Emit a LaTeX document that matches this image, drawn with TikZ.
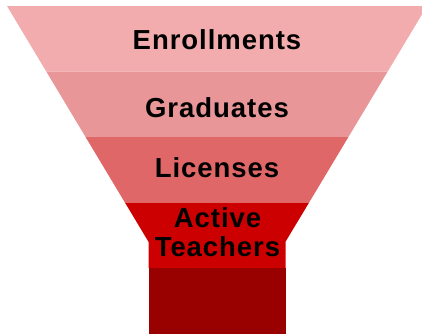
\documentclass[tikz,border=0pt]{standalone}
\usepackage{fontspec}
\setmainfont{Liberation Sans}[LetterSpace=3.5]
\usepackage{tikz}
\definecolor{enrollpink}{RGB}{242,172,174}
\definecolor{gradpink}{RGB}{232,150,152}
\definecolor{licensered}{RGB}{224,103,103}
\definecolor{activered}{RGB}{204,0,0}
\definecolor{stemred}{RGB}{153,0,0}
\tikzstyle{band} = [draw=none]
\tikzstyle{stage} = [inner sep=0pt, text centered, align=center, text=black, font=\fontsize{27.5}{28.7}\selectfont\bfseries]

\begin{document}
\begin{tikzpicture}[x=1pt, y=-1pt]

\useasboundingbox (0,0) rectangle (422,335);
\clip (0,0) rectangle (422,335);

\fill [band, enrollpink] (7,6) -- (427,6) -- (387.7,71.5) -- (46.3,71.5) -- cycle;
\fill [band, gradpink] (46.3,71.5) -- (387.7,71.5) -- (348.4,137) -- (85.6,137) -- cycle;
\fill [band, licensered] (85.6,137) -- (348.4,137) -- (309.1,202.5) -- (124.9,202.5) -- cycle;
\fill [band, activered] (124.9,202.5) -- (309.1,202.5) -- (285.5,241.8) -- (285.5,268) -- (148.5,268) -- (148.5,241.8) -- cycle;
\fill [band, stemred] (148.5,268) rectangle (285.5,333.5);

\node (enroll) [stage, anchor=base] at (217,49.3) {Enrollments};
\node (grad) [stage, anchor=base] at (217,117.3) {Graduates};
\node (license) [stage, anchor=base] at (217,177.3) {Licenses};
\node (active) [stage] at (217.5,232.5) {Active\\Teachers};

\end{tikzpicture}
\end{document}
